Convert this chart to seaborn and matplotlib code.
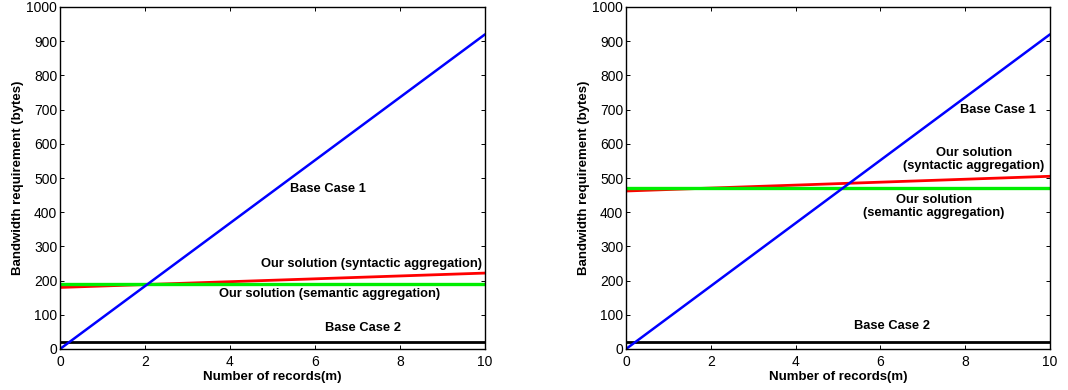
import numpy as np
import pandas as pd
import matplotlib
matplotlib.use("Agg")
import matplotlib.pyplot as plt
import seaborn as sns

# x range (number of records, m)
x_ends = [0, 10]

# left panel values at x=0 and x=10
left_base1 = [0, 920]
left_syntactic = [180, 222]
left_semantic = [190, 190]
left_base2 = [20, 20]

# right panel values at x=0 and x=10
right_base1 = [0, 920]
right_syntactic = [462, 505]
right_semantic = [472, 472]
right_base2 = [20, 20]

series_colors = {
    'Base Case 1': '#0000ff',
    'syntactic': '#ff0000',
    'semantic': '#00ee00',
    'Base Case 2': '#000000',
}

sns.set_style("ticks")
plt.rcParams['font.family'] = ['Liberation Sans', 'DejaVu Sans']
plt.rcParams['xtick.direction'] = 'in'
plt.rcParams['ytick.direction'] = 'in'
plt.rcParams['xtick.top'] = True
plt.rcParams['ytick.right'] = True
for key in ['text.color', 'axes.labelcolor', 'xtick.color', 'ytick.color']:
    plt.rcParams[key] = 'black'


def make_frame(base1, syn, sem, base2):
    rows = []
    for name, vals in [('Base Case 1', base1), ('syntactic', syn),
                       ('semantic', sem), ('Base Case 2', base2)]:
        for xv, yv in zip(x_ends, vals):
            rows.append({'x': xv, 'y': yv, 'series': name})
    return pd.DataFrame(rows)


fig = plt.figure(figsize=(10.68, 3.9), dpi=100)
ax1 = fig.add_axes([60 / 1068, 1 - 349 / 390, 425 / 1068, 342 / 390])
ax2 = fig.add_axes([626 / 1068, 1 - 349 / 390, 424 / 1068, 342 / 390])

widths = {'Base Case 1': 1.8, 'syntactic': 2.0, 'semantic': 2.4, 'Base Case 2': 2.0}

for ax, data in [(ax1, make_frame(left_base1, left_syntactic, left_semantic, left_base2)),
                 (ax2, make_frame(right_base1, right_syntactic, right_semantic, right_base2))]:
    for name in ['Base Case 2', 'syntactic', 'semantic', 'Base Case 1']:
        sub = data[data['series'] == name]
        sns.lineplot(data=sub, x='x', y='y', ax=ax, color=series_colors[name],
                     linewidth=widths[name], legend=False)
    ax.set_xlim(0, 10)
    ax.set_ylim(0, 1000)
    ax.set_xticks(range(0, 11, 2))
    ax.set_yticks(range(0, 1001, 100))
    ax.tick_params(labelsize=10, length=3, width=0.7)
    ax.tick_params(axis='x', pad=4)
    ax.tick_params(axis='y', pad=2)
    for s in ax.spines.values():
        s.set_linewidth(1.0)
        s.set_color('black')
    ax.set_xlabel('Number of records(m)', fontsize=9.5, fontweight='bold', labelpad=2)
    ax.set_ylabel('Bandwidth requirement (bytes)', fontsize=9.5, fontweight='bold', labelpad=2)

tk = dict(fontsize=9.3, fontweight='bold', ha='center', va='center')
ax1.text(6.3, 469, 'Base Case 1', **tk)
ax1.text(7.32, 250, 'Our solution (syntactic aggregation)', **tk)
ax1.text(6.35, 160, 'Our solution (semantic aggregation)', **tk)
ax1.text(7.12, 60, 'Base Case 2', **tk)

ax2.text(8.77, 700, 'Base Case 1', **tk)
ax2.text(8.21, 554, 'Our solution\n(syntactic aggregation)', linespacing=1.1, **tk)
ax2.text(7.26, 417, 'Our solution\n(semantic aggregation)', linespacing=1.1, **tk)
ax2.text(6.27, 67, 'Base Case 2', **tk)

fig.savefig('out.png', dpi=100)
